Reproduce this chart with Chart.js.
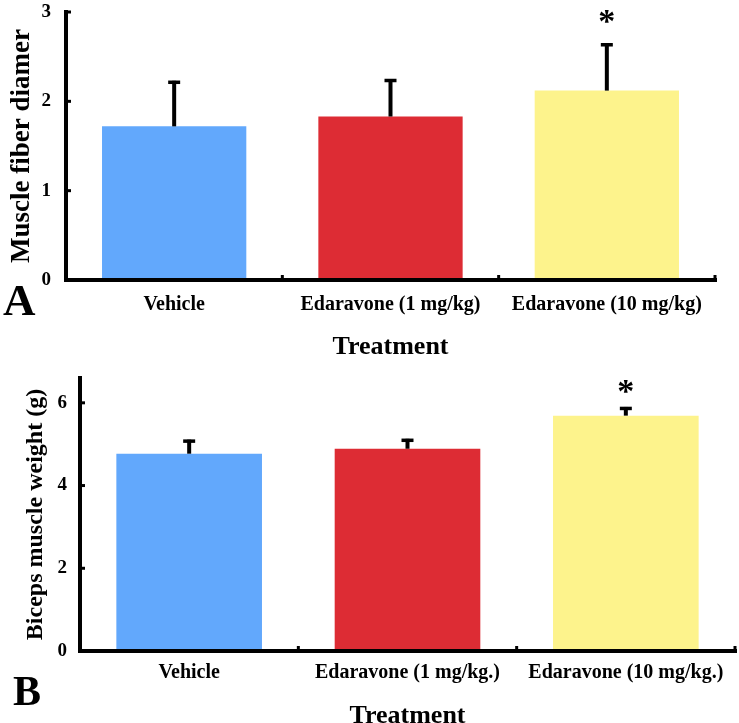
<!DOCTYPE html>
<html>
<head>
<meta charset="utf-8">
<script src="https://cdn.jsdelivr.net/npm/chart.js@4.4.1/dist/chart.umd.min.js"></script>
<style>
  html, body { margin: 0; padding: 0; background: #fff; overflow: hidden; }
  #page { position: relative; width: 739px; height: 723px; overflow: hidden; }
  .panel { position: absolute; left: 0; width: 739px; }
</style>
</head>
<body>
<div id="page">
  <div class="panel" style="top:0;height:360px"><canvas id="chartA"></canvas></div>
  <div class="panel" style="top:360px;height:380px"><canvas id="chartB"></canvas></div>
</div>
<script>
// data
const treatmentsA = ["Vehicle", "Edaravone (1 mg/kg)", "Edaravone (10 mg/kg)"];
const treatmentsB = ["Vehicle", "Edaravone (1 mg/kg.)", "Edaravone (10 mg/kg.)"];
const fiberMeans = [1.72, 1.83, 2.12];
const fiberSD = [0.51, 0.42, 0.53];
const weightMeans = [4.77, 4.89, 5.69];
const weightSD = [0.34, 0.24, 0.21];
const fiberTicks = [0, 1, 2, 3];
const weightTicks = [0, 2, 4, 6];
const significant = [false, false, true];
const barColors = ['rgb(98, 168, 252)', 'rgb(221, 44, 52)', 'rgb(253, 243, 140)'];

const serif = "'Liberation Serif', 'Times New Roman', serif";

// error bars, asterisks, axes and panel letter
const decorations = {
    id: 'decorations',
    afterDatasetsDraw(chart, args, opts) {
        const ctx = chart.ctx;
        const area = chart.chartArea;
        const xs = chart.scales.x;
        const ys = chart.scales.y;
        const meta = chart.getDatasetMeta(0);
        const sd = chart.data.datasets[0].sd;
        const means = chart.data.datasets[0].data;

        ctx.save();
        ctx.strokeStyle = '#000';
        ctx.fillStyle = '#000';

        meta.data.forEach((bar, i) => {
            const top = ys.getPixelForValue(means[i] + sd[i]);
            ctx.lineWidth = 4;
            ctx.beginPath();
            ctx.moveTo(bar.x, bar.y);
            ctx.lineTo(bar.x, top);
            ctx.stroke();
            ctx.lineWidth = 3.5;
            ctx.beginPath();
            ctx.moveTo(bar.x - 6, top + 1.5);
            ctx.lineTo(bar.x + 6, top + 1.5);
            ctx.stroke();
            if (significant[i]) {
                ctx.font = 'bold 34px ' + serif;
                ctx.textAlign = 'center';
                ctx.textBaseline = 'alphabetic';
                ctx.fillText('*', bar.x, top - opts.starGap);
            }
        });

        // axes
        ctx.lineWidth = 4;
        ctx.lineCap = 'square';
        ctx.beginPath();
        ctx.moveTo(area.left, area.top);
        ctx.lineTo(area.left, area.bottom);
        ctx.lineTo(area.right, area.bottom);
        ctx.stroke();

        // small tick nubs
        ctx.lineCap = 'butt';
        ctx.lineWidth = 3;
        opts.ticks.forEach(v => {
            const y = ys.getPixelForValue(v);
            ctx.beginPath();
            ctx.moveTo(area.left, y);
            ctx.lineTo(area.left + 5, y);
            ctx.stroke();
        });
        for (let i = 0; i < meta.data.length; i++) {
            const x = i < meta.data.length - 1
                ? (xs.getPixelForValue(i) + xs.getPixelForValue(i + 1)) / 2
                : area.right;
            ctx.beginPath();
            ctx.moveTo(x, area.bottom);
            ctx.lineTo(x, area.bottom - 5);
            ctx.stroke();
        }

        // panel letter
        ctx.font = 'bold ' + opts.letterSize + 'px ' + serif;
        ctx.textAlign = 'left';
        ctx.textBaseline = 'alphabetic';
        ctx.fillText(opts.letter, opts.letterX, opts.letterY);
        ctx.restore();
    }
};

function makeChart(id, cfg) {
    return new Chart(document.getElementById(id), {
        type: 'bar',
        data: {
            labels: cfg.labels,
            datasets: [{
                data: cfg.means,
                sd: cfg.sd,
                backgroundColor: barColors,
                borderWidth: 0,
                barPercentage: 0.667,
                categoryPercentage: 1
            }]
        },
        options: {
            responsive: true,
            maintainAspectRatio: false,
            animation: false,
            layout: { padding: { top: cfg.padTop, right: cfg.padRight, left: 0, bottom: 0 } },
            plugins: {
                legend: { display: false },
                tooltip: { enabled: false },
                decorations: {
                    ticks: cfg.ticks,
                    starGap: cfg.starGap,
                    letter: cfg.letter,
                    letterSize: cfg.letterSize,
                    letterX: cfg.letterX,
                    letterY: cfg.letterY
                }
            },
            scales: {
                x: {
                    grid: { display: false, drawTicks: false },
                    border: { display: false },
                    ticks: {
                        color: '#000',
                        autoSkip: false,
                        maxRotation: 0,
                        padding: cfg.xTickPad,
                        font: { family: serif, weight: 'bold', size: 20 }
                    },
                    title: {
                        display: true,
                        text: 'Treatment',
                        color: '#000',
                        padding: { top: 0, bottom: cfg.xTitlePad },
                        font: { family: serif, weight: 'bold', size: 26, lineHeight: 1 }
                    },
                    afterFit: s => { s.height = cfg.xHeight; s.paddingLeft = 0; s.paddingRight = 0; }
                },
                y: {
                    min: 0,
                    max: cfg.yMax,
                    grid: { display: false, drawTicks: false },
                    border: { display: false },
                    ticks: {
                        stepSize: cfg.ticks[1] - cfg.ticks[0],
                        includeBounds: false,
                        color: '#000',
                        padding: cfg.yTickPad,
                        font: { family: serif, weight: 'bold', size: 19 }
                    },
                    title: {
                        display: true,
                        text: cfg.yTitle,
                        color: '#000',
                        padding: { top: cfg.yTitlePad, bottom: 0 },
                        font: { family: serif, weight: 'bold', size: cfg.yTitleSize, lineHeight: 1 }
                    },
                    afterFit: s => { s.width = cfg.yWidth; s.paddingTop = 0; s.paddingBottom = 0; }
                }
            }
        },
        plugins: [decorations]
    });
}

makeChart('chartA', {
    labels: treatmentsA, means: fiberMeans, sd: fiberSD, ticks: fiberTicks, yMax: 3,
    yTitle: 'Muscle fiber diamer', yTitleSize: 27, yTitlePad: 9,
    padTop: 12, padRight: 24, yWidth: 66, xHeight: 80,
    xTickPad: 13, xTitlePad: 0, yTickPad: 15, starGap: 11,
    letter: 'A', letterSize: 45, letterX: 3, letterY: 315
});

makeChart('chartB', {
    labels: treatmentsB, means: weightMeans, sd: weightSD, ticks: weightTicks, yMax: 6.6,
    yTitle: 'Biceps muscle weight (g)', yTitleSize: 24, yTitlePad: 24,
    padTop: 18, padRight: 4, yWidth: 80, xHeight: 89,
    xTickPad: 10, xTitlePad: 11, yTickPad: 13, starGap: 5,
    letter: 'B', letterSize: 42, letterX: 13, letterY: 345
});
</script>
</body>
</html>
